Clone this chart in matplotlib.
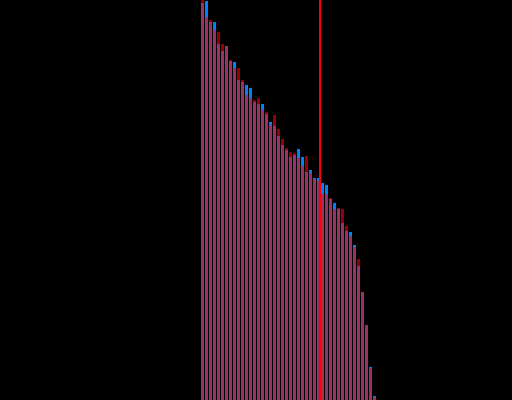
import matplotlib
matplotlib.use("Agg")
import matplotlib.pyplot as plt
import numpy as np

# bar heights (sorted, two overlaid series)
blue_vals = [397, 399, 378, 378, 356, 349, 354, 339, 338, 320, 318, 315, 312, 298, 296,
             296, 286, 278, 274, 264, 255, 250, 243, 245, 251, 243, 228, 230, 222, 222,
             217, 215, 201, 197, 191, 177, 169, 168, 155, 134, 108, 75, 33, 4]
red_vals = [400, 383, 380, 370, 368, 356, 354, 340, 332, 332, 320, 305, 302, 300, 302,
            290, 288, 275, 285, 271, 261, 252, 248, 247, 242, 234, 244, 227, 221, 219,
            206, 206, 202, 191, 192, 191, 174, 164, 153, 141, 108, 75, 32, 3]
cut_pos = 29.5

x = np.arange(len(blue_vals))

fig = plt.figure(figsize=(5.12, 4.0), dpi=100, facecolor="black")
ax = fig.add_axes([0, 0, 1, 1])
ax.set_facecolor("black")

ax.bar(x, blue_vals, width=0.75, color="#0080ff", linewidth=0)
ax.bar(x, red_vals, width=0.75, color="#ff0000", alpha=0.6, linewidth=0)
ax.axvline(cut_pos, color="#ff0000", linewidth=1.5)

ax.set_xlim(-50.6, 77.4)
ax.set_ylim(0, 400)
ax.axis("off")

fig.savefig("out.png", facecolor="black")
